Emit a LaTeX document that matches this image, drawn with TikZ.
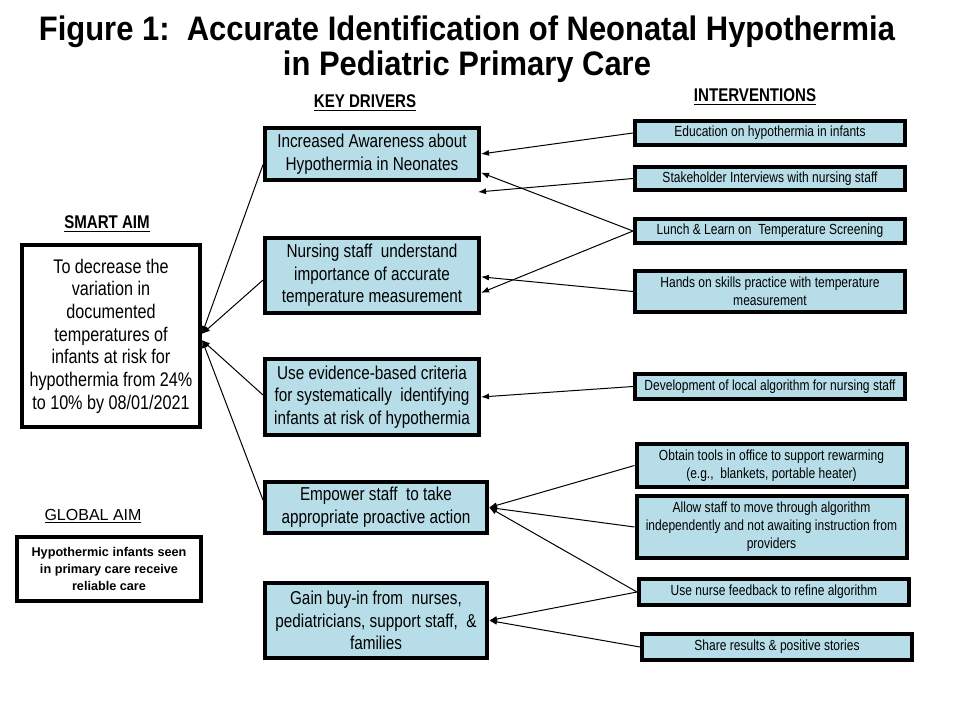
\documentclass[tikz,border=0pt]{standalone}
\usepackage{fontspec}
\setmainfont{Liberation Sans}[FakeStretch=0.82]
\newfontfamily\widefont{Liberation Sans}
\newfontfamily\titlefont{Liberation Sans}[FakeStretch=0.91]
\usetikzlibrary{arrows.meta}
\definecolor{driverblue}{RGB}{183,222,232}
\tikzset{
  aimbox/.style={draw, line width=3pt, fill=white, align=center, inner sep=0pt},
  driverbox/.style={draw, line width=3pt, fill=driverblue, align=center, inner sep=0pt,
    font=\fontsize{14}{17}\selectfont},
  ideabox/.style={draw, line width=3pt, fill=driverblue, align=center, inner sep=0pt,
    minimum width=202.5pt, font=\fontsize{11}{13.5}\selectfont},
  heading/.style={font=\fontsize{13.8}{15}\selectfont\bfseries},
}
\begin{document}
\begin{tikzpicture}[x=0.75pt,y=-0.75pt]
      \useasboundingbox (0,0) rectangle (960,720);
      \path
        (467,49) node[align=center, font=\titlefont\fontsize{25.5}{26.5}\selectfont\bfseries] (title)
          {Figure 1:\ \ Accurate Identification of Neonatal Hypothermia\\in Pediatric Primary Care}
        (107,224) node[heading] (smarthead){\underline{SMART AIM}}
        (93,516) node[font=\widefont\fontsize{12}{14}\selectfont] (globalhead){\underline{GLOBAL AIM}}
        (365,103) node[heading] (kdhead){\underline{KEY DRIVERS}}
        (755,97) node[heading] (ivhead){\underline{INTERVENTIONS}};
      % aims
      \path
        (111,336) node[aimbox, minimum width=133.5pt, minimum height=137pt,
          font=\fontsize{14.8}{17}\selectfont] (smart)
          {To decrease the\\variation in\\documented\\temperatures of\\infants at risk for\\hypothermia from 24\%\\to 10\% by 08/01/2021}
        (109,569) node[aimbox, minimum width=138pt, minimum height=48pt,
          font=\widefont\fontsize{9.5}{12.5}\selectfont\bfseries] (global)
          {Hypothermic infants seen\\in primary care receive\\reliable care};
      % key drivers
      \path
        (372,154) node[driverbox, minimum width=160.5pt, minimum height=39pt] (kd1)
          {Increased Awareness about\\Hypothermia in Neonates}
        (372,275.5) node[driverbox, minimum width=160.5pt, minimum height=56pt] (kd2)
          {Nursing staff\ \ understand\\importance of accurate\\temperature measurement}
        (372,397) node[driverbox, minimum width=160.5pt, minimum height=57pt] (kd3)
          {Use evidence-based criteria\\for systematically\ \ identifying\\infants at risk of hypothermia}
        (376,507.5) node[driverbox, minimum width=166.5pt, minimum height=38.5pt] (kd4)
          {Empower staff\ \ to take\\appropriate proactive action}
        (376,620.5) node[driverbox, minimum width=166.5pt, minimum height=56pt] (kd5)
          {Gain buy-in from\ \ nurses,\\pediatricians, support staff,\ \ \&\\families};
      % interventions
      \path
        (770,133) node[ideabox, minimum height=18pt] (iv1){Education on hypothermia in infants}
        (770,178.5) node[ideabox, minimum height=17.5pt] (iv2){Stakeholder Interviews with nursing staff}
        (770,231) node[ideabox, minimum height=18pt] (iv3){Lunch \& Learn on\ \ Temperature Screening}
        (770,291.5) node[ideabox, minimum height=31pt] (iv4)
          {Hands on skills practice with temperature\\measurement}
        (770,386.5) node[ideabox, minimum height=19pt] (iv5){Development of local algorithm for nursing staff}
        (771.5,465.5) node[ideabox, minimum height=32.5pt] (iv6)
          {Obtain tools in office to support rewarming\\(e.g.,\ \ blankets, portable heater)}
        (771.5,527) node[ideabox, minimum height=46pt] (iv7)
          {Allow staff to move through algorithm\\independently and not awaiting instruction from\\providers}
        (774,592) node[ideabox, minimum height=19.5pt] (iv8){Use nurse feedback to refine algorithm}
        (777,647) node[ideabox, minimum height=19.5pt] (iv9){Share results \& positive stories};
      \coordinate (kdgap) at (478,192);
      \begin{scope}[-{Latex[length=6pt,width=4.5pt]}, line width=0.75pt]
        \draw ([yshift=-8pt]kd1.west) to ([yshift=1.5pt]smart.east);
        \draw ([yshift=-3.4pt]kd2.west) to ([yshift=1.5pt]smart.east);
        \draw ([yshift=1.5pt]kd3.west) to ([yshift=-3pt]smart.east);
        \draw ([yshift=5.6pt]kd4.west) to ([yshift=-3pt]smart.east);
        \draw (iv1.west) to (kd1.east);
        \draw (iv2.west) to (kdgap);
        \draw (iv3.west) to ([yshift=-14pt]kd1.east);
        \draw (iv3.west) to ([yshift=-13pt]kd2.east);
        \draw (iv4.west) to ([yshift=-1pt]kd2.east);
        \draw (iv5.west) to (kd3.east);
        \draw (iv6.west) to (kd4.east);
        \draw (iv7.west) to (kd4.east);
        \draw (iv8.west) to (kd4.east);
        \draw (iv8.west) to (kd5.east);
        \draw (iv9.west) to (kd5.east);
      \end{scope}
    \end{tikzpicture}
\end{document}
